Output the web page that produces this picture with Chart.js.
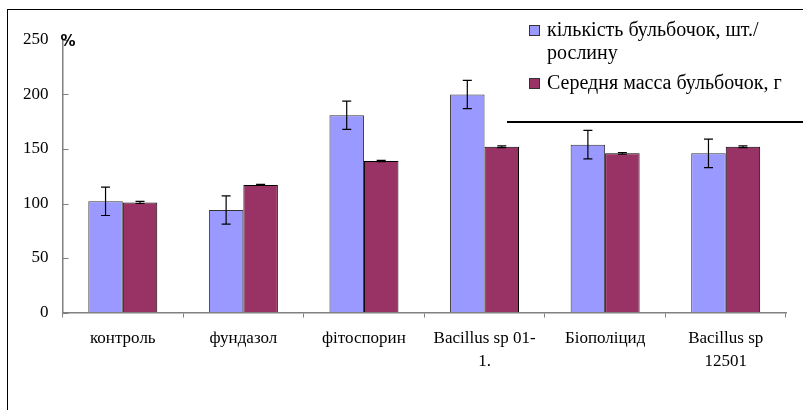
<!DOCTYPE html>
<html>
<head>
<meta charset="utf-8">
<script src="https://cdn.jsdelivr.net/npm/chart.js@4.4.1/dist/chart.umd.min.js"></script>
<style>
  html, body { margin: 0; padding: 0; background: #fff; }
  #wrap { position: relative; width: 803px; height: 410px; overflow: hidden; }
  #c { position: absolute; left: 0; top: 0; }
  .frame { position: absolute; left: 7px; top: 9px; width: 800px; height: 410px;
           border-left: 1.5px solid #000; border-top: 1.5px solid #000; box-sizing: border-box; }
  .rule { position: absolute; left: 507px; top: 121px; width: 296px; height: 2px; background: #000; }
  .legend { position: absolute; left: 529px; top: 18px; font-family: "Liberation Serif", "Times New Roman", serif;
            font-size: 20px; color: #000; line-height: 23px; }
  .legend .item { position: relative; padding-left: 18px; }
  .legend .sw { position: absolute; left: 0; top: 7px; width: 9px; height: 9px; border: 1px solid #333; }
</style>
</head>
<body>
<div id="wrap">
  <canvas id="c" width="803" height="410"></canvas>
  <div class="frame"></div>
  <div class="rule"></div>
  <div class="legend">
    <div class="item"><span class="sw" style="background:#9999FF"></span>кількість бульбочок, шт./<br>рослину</div>
    <div class="item" style="margin-top:7px"><span class="sw" style="background:#993366"></span>Середня масса бульбочок, г</div>
  </div>
</div>
<script>
// ─── Дані ───────────────────────────────────────────────────────────────────
const categories = ['контроль', 'фундазол', 'фітоспорин', ['Bacillus sp 01-', '1.'], 'Біополіцид', ['Bacillus sp', '12501']];
const countValues = [102, 94, 181, 200, 154, 146];
const countErrors = [13, 13, 13, 13, 13, 13];
const massValues = [101, 117, 139, 152, 146, 152];
const massErrors = [1, 0.5, 0.5, 0.8, 0.8, 0.8];
const yTicks = [0, 50, 100, 150, 200, 250];

const serif = '"Liberation Serif", "Times New Roman", serif';

// error bars + inward y ticks + "%" label
const extrasPlugin = {
  id: 'extras',
  afterDatasetsDraw(chart) {
    const ctx = chart.ctx;
    const y = chart.scales.y;
    const errs = [countErrors, massErrors];
    ctx.save();
    ctx.strokeStyle = '#000';
    ctx.lineWidth = 1.2;
    chart.data.datasets.forEach((ds, di) => {
      const meta = chart.getDatasetMeta(di);
      meta.data.forEach((bar, i) => {
        const e = errs[di][i];
        if (!e) return;
        const top = y.getPixelForValue(ds.data[i] + e);
        const bot = y.getPixelForValue(ds.data[i] - e);
        const x = bar.x;
        ctx.beginPath();
        ctx.moveTo(x, top); ctx.lineTo(x, bot);
        ctx.moveTo(x - 4.5, top); ctx.lineTo(x + 4.5, top);
        ctx.moveTo(x - 4.5, bot); ctx.lineTo(x + 4.5, bot);
        ctx.stroke();
      });
    });
    ctx.restore();
  },
  afterDraw(chart) {
    const ctx = chart.ctx;
    const y = chart.scales.y;
    const left = chart.chartArea.left;
    ctx.save();
    ctx.strokeStyle = '#808080';
    ctx.lineWidth = 1;
    for (const v of yTicks) {
      const py = Math.round(y.getPixelForValue(v)) + 0.5;
      ctx.beginPath();
      ctx.moveTo(left, py); ctx.lineTo(left + 6, py);
      ctx.stroke();
    }
    ctx.fillStyle = '#000';
    ctx.font = 'bold 15px "DejaVu Sans", sans-serif';
    ctx.textBaseline = 'middle';
    ctx.fillText('%', left - 2, y.getPixelForValue(250) + 2);
    ctx.restore();
  }
};

new Chart(document.getElementById('c'), {
  type: 'bar',
  data: {
    labels: categories,
    datasets: [
      { label: 'кількість бульбочок, шт./рослину', data: countValues,
        backgroundColor: '#9999FF', borderColor: '#333', borderWidth: 1 },
      { label: 'Середня масса бульбочок, г', data: massValues,
        backgroundColor: '#993366', borderColor: '#000', borderWidth: 1 },
    ],
  },
  options: {
    responsive: false,
    animation: false,
    layout: { padding: { left: 0, right: 17, top: 40, bottom: 0 } },
    categoryPercentage: 0.572,
    barPercentage: 1.0,
    plugins: { legend: { display: false }, tooltip: { enabled: false } },
    scales: {
      x: {
        grid: { drawOnChartArea: false, drawTicks: true, tickLength: 5, color: '#808080', offset: true },
        border: { color: '#808080', width: 1.5 },
        ticks: { color: '#000', font: { family: serif, size: 17, lineHeight: 1.35 }, padding: 10, maxRotation: 0, autoSkip: false },
        afterFit(scale) { scale.height = 97.5; },
      },
      y: {
        min: 0, max: 250,
        grid: { drawOnChartArea: false, drawTicks: false },
        border: { color: '#808080', width: 1.5 },
        ticks: { stepSize: 50, color: '#000', font: { family: serif, size: 17 }, padding: 14 },
        afterFit(scale) { scale.width = 62.5; },
      },
    },
  },
  plugins: [extrasPlugin],
});
</script>
</body>
</html>
